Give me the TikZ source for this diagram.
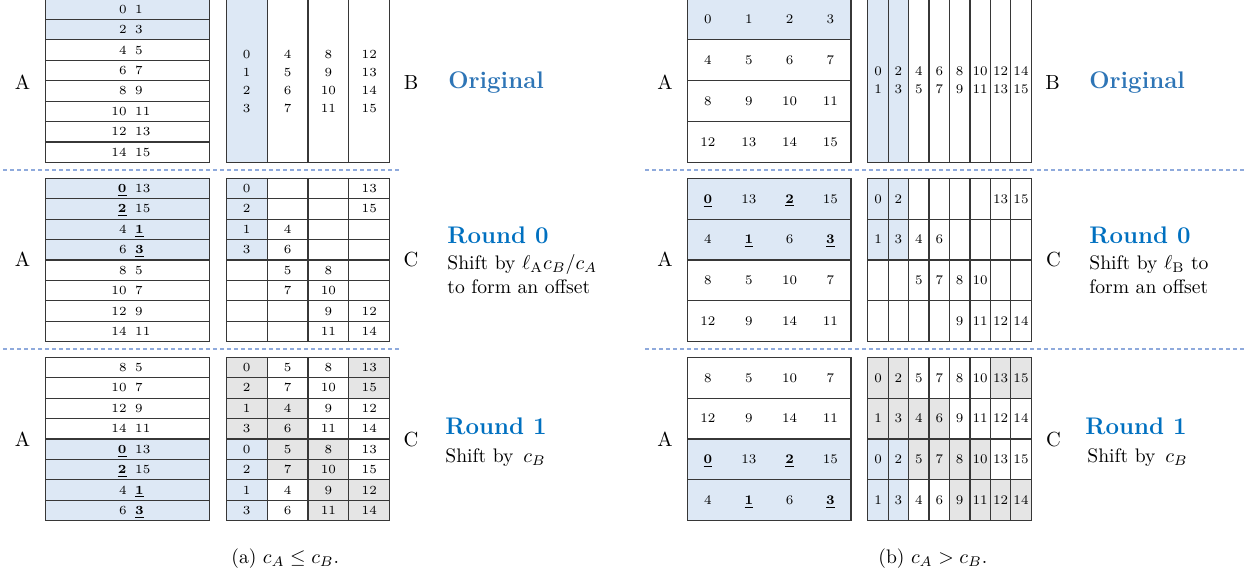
\documentclass[tikz,border=0pt]{standalone}
\definecolor{cellblue}{RGB}{221,232,245}
\definecolor{cellgray}{RGB}{229,229,229}
\definecolor{gridc}{RGB}{55,55,55}
\definecolor{dashc}{RGB}{143,170,220}
\definecolor{origblue}{RGB}{46,117,182}
\definecolor{roundblue}{RGB}{0,112,192}
\newcommand\bu[1]{\underline{\textbf{#1}}}
\begin{document}
\begin{tikzpicture}[x=0.5pt,y=-0.5pt,
  num/.style={inner sep=0pt, text height=4pt, text depth=0pt, font=\fontsize{6.2}{7}\selectfont, text=black},
  rnum/.style={num, text height=4.3pt, font=\fontsize{6.6}{7.5}\selectfont},
  lab/.style={anchor=base, inner sep=0pt, font=\fontsize{10.2}{12}\selectfont},
  side/.style={anchor=base west, inner sep=0pt, font=\fontsize{9.8}{11.5}\selectfont},
  title/.style={anchor=base west, inner sep=0pt, font=\fontsize{12}{14}\selectfont\bfseries},
  gridline/.style={draw=gridc, line width=0.6pt},
  dashline/.style={draw=dashc, line width=0.6pt, dash pattern=on 2pt off 1.5pt}]
\useasboundingbox (0,0) rectangle (1247,577);
\def\S{163.4}
\def\LAx{45.7}\def\LBx{226.3}\def\RAx{687.5}\def\RBx{867.8}
\def\Yo{-1}\def\Yi{178.3}\def\Yii{357.3}
% ---------------- fills ----------------
\fill[cellblue] (\LAx,\Yo) rectangle +(\S,{2*\S/8});
\fill[cellblue] (\LBx,\Yo) rectangle +({\S/4},\S);
\fill[cellblue] (\LAx,\Yi) rectangle +(\S,{4*\S/8});
\fill[cellblue] (\LBx,\Yi) rectangle +({\S/4},{4*\S/8});
\fill[cellblue] (\LAx,{\Yii+4*\S/8}) rectangle +(\S,{4*\S/8});
\fill[cellblue] (\LBx,{\Yii+4*\S/8}) rectangle +({\S/4},{4*\S/8});
\foreach \c/\r in {0/0,3/0,0/1,3/1,0/2,1/2,0/3,1/3,1/4,2/4,1/5,2/5,2/6,3/6,2/7,3/7}
  \fill[cellgray] ({\LBx+\c*\S/4},{\Yii+\r*\S/8}) rectangle +({\S/4},{\S/8});
\fill[cellblue] (\RAx,\Yo) rectangle +(\S,{\S/4});
\fill[cellblue] (\RBx,\Yo) rectangle +({2*\S/8},\S);
\fill[cellblue] (\RAx,\Yi) rectangle +(\S,{2*\S/4});
\fill[cellblue] (\RBx,\Yi) rectangle +({2*\S/8},{2*\S/4});
\fill[cellblue] (\RAx,{\Yii+2*\S/4}) rectangle +(\S,{2*\S/4});
\fill[cellblue] (\RBx,{\Yii+2*\S/4}) rectangle +({2*\S/8},{2*\S/4});
\foreach \c/\r in {0/0,1/0,6/0,7/0,0/1,1/1,2/1,3/1,2/2,3/2,4/2,5/2,4/3,5/3,6/3,7/3}
  \fill[cellgray] ({\RBx+\c*\S/8},{\Yii+\r*\S/4}) rectangle +({\S/8},{\S/4});
% ---------------- grids ----------------
\foreach \Y in {\Yo,\Yi,\Yii}{
  \draw[gridline] (\LAx,\Y) rectangle +(\S,\S);
  \foreach \r in {1,...,7} \draw[gridline] (\LAx,{\Y+\r*\S/8}) -- +(\S,0);
  \draw[gridline] (\LBx,\Y) rectangle +(\S,\S);
  \foreach \c in {1,2,3} \draw[gridline] ({\LBx+\c*\S/4},\Y) -- +(0,\S);
  \draw[gridline] (\RAx,\Y) rectangle +(\S,\S);
  \foreach \r in {1,2,3} \draw[gridline] (\RAx,{\Y+\r*\S/4}) -- +(\S,0);
  \draw[gridline] (\RBx,\Y) rectangle +(\S,\S);
  \foreach \c in {1,...,7} \draw[gridline] ({\RBx+\c*\S/8},\Y) -- +(0,\S);
}
\foreach \Y in {\Yi,\Yii}{
  \foreach \r in {1,...,7} \draw[gridline] (\LBx,{\Y+\r*\S/8}) -- +(\S,0);
  \foreach \r in {1,2,3} \draw[gridline] (\RBx,{\Y+\r*\S/4}) -- +(\S,0);
}
% ---------------- texts: left ----------------
\def\pairL{127.0}\def\pairR{134.8}
\foreach \a/\b [count=\i from 0] in {0/1,2/3,4/5,6/7,8/9,10/11,12/13,14/15}{
  \node[num,anchor=east] (lat\i a) at (\pairL,{\Yo+(\i+0.5)*\S/8}) {\a};
  \node[num,anchor=west] (lat\i b) at (\pairR,{\Yo+(\i+0.5)*\S/8}) {\b};
}
\foreach \a/\b [count=\i from 0] in {\bu{0}/13,\bu{2}/15,4/\bu{1},6/\bu{3},8/5,10/7,12/9,14/11}{
  \node[num,anchor=east] (lam\i a) at (\pairL,{\Yi+(\i+0.5)*\S/8}) {\a};
  \node[num,anchor=west] (lam\i b) at (\pairR,{\Yi+(\i+0.5)*\S/8}) {\b};
}
\foreach \a/\b [count=\i from 0] in {8/5,10/7,12/9,14/11,\bu{0}/13,\bu{2}/15,4/\bu{1},6/\bu{3}}{
  \node[num,anchor=east] (lab\i a) at (\pairL,{\Yii+(\i+0.5)*\S/8}) {\a};
  \node[num,anchor=west] (lab\i b) at (\pairR,{\Yii+(\i+0.5)*\S/8}) {\b};
}
\foreach \c in {0,1,2,3}
  \foreach \k in {0,1,2,3}{
    \pgfmathtruncatemacro\v{4*\c+\k}
    \node[num] (lb\c-\k) at ({\LBx+(\c+0.5)*\S/4},{54.1+\k*18.2}) {\v};
  }
\foreach \c/\r/\v in {0/0/0,3/0/13,0/1/2,3/1/15,0/2/1,1/2/4,0/3/3,1/3/6,1/4/5,2/4/8,1/5/7,2/5/10,2/6/9,3/6/12,2/7/11,3/7/14}
  \node[num] (lcm\c-\r) at ({\LBx+(\c+0.5)*\S/4},{\Yi+(\r+0.5)*\S/8}) {\v};
\foreach \r/\va/\vb/\vc/\vd in {0/0/5/8/13,1/2/7/10/15,2/1/4/9/12,3/3/6/11/14,4/0/5/8/13,5/2/7/10/15,6/1/4/9/12,7/3/6/11/14}{
  \node[num] (lcb0-\r) at ({\LBx+0.5*\S/4},{\Yii+(\r+0.5)*\S/8}) {\va};
  \node[num] (lcb1-\r) at ({\LBx+1.5*\S/4},{\Yii+(\r+0.5)*\S/8}) {\vb};
  \node[num] (lcb2-\r) at ({\LBx+2.5*\S/4},{\Yii+(\r+0.5)*\S/8}) {\vc};
  \node[num] (lcb3-\r) at ({\LBx+3.5*\S/4},{\Yii+(\r+0.5)*\S/8}) {\vd};
}
% ---------------- texts: right ----------------
\foreach \r/\va/\vb/\vc/\vd in {0/0/1/2/3,1/4/5/6/7,2/8/9/10/11,3/12/13/14/15}{
  \node[rnum] (rat0-\r) at ({\RAx+0.5*\S/4},{\Yo+(\r+0.5)*\S/4}) {\va};
  \node[rnum] (rat1-\r) at ({\RAx+1.5*\S/4},{\Yo+(\r+0.5)*\S/4}) {\vb};
  \node[rnum] (rat2-\r) at ({\RAx+2.5*\S/4},{\Yo+(\r+0.5)*\S/4}) {\vc};
  \node[rnum] (rat3-\r) at ({\RAx+3.5*\S/4},{\Yo+(\r+0.5)*\S/4}) {\vd};
}
\foreach \r/\va/\vb/\vc/\vd in {0/\bu{0}/13/\bu{2}/15,1/4/\bu{1}/6/\bu{3},2/8/5/10/7,3/12/9/14/11}{
  \node[rnum] (ram0-\r) at ({\RAx+0.5*\S/4},{\Yi+(\r+0.5)*\S/4}) {\va};
  \node[rnum] (ram1-\r) at ({\RAx+1.5*\S/4},{\Yi+(\r+0.5)*\S/4}) {\vb};
  \node[rnum] (ram2-\r) at ({\RAx+2.5*\S/4},{\Yi+(\r+0.5)*\S/4}) {\vc};
  \node[rnum] (ram3-\r) at ({\RAx+3.5*\S/4},{\Yi+(\r+0.5)*\S/4}) {\vd};
}
\foreach \r/\va/\vb/\vc/\vd in {0/8/5/10/7,1/12/9/14/11,2/\bu{0}/13/\bu{2}/15,3/4/\bu{1}/6/\bu{3}}{
  \node[rnum] (rab0-\r) at ({\RAx+0.5*\S/4},{\Yii+(\r+0.5)*\S/4}) {\va};
  \node[rnum] (rab1-\r) at ({\RAx+1.5*\S/4},{\Yii+(\r+0.5)*\S/4}) {\vb};
  \node[rnum] (rab2-\r) at ({\RAx+2.5*\S/4},{\Yii+(\r+0.5)*\S/4}) {\vc};
  \node[rnum] (rab3-\r) at ({\RAx+3.5*\S/4},{\Yii+(\r+0.5)*\S/4}) {\vd};
}
\foreach \c in {0,...,7}{
  \pgfmathtruncatemacro\va{2*\c}
  \pgfmathtruncatemacro\vb{2*\c+1}
  \node[rnum] (rb\c-0) at ({\RBx+(\c+0.5)*\S/8},71) {\va};
  \node[rnum] (rb\c-1) at ({\RBx+(\c+0.5)*\S/8},89) {\vb};
}
\foreach \c/\r/\v in {0/0/0,1/0/2,6/0/13,7/0/15,0/1/1,1/1/3,2/1/4,3/1/6,2/2/5,3/2/7,4/2/8,5/2/10,4/3/9,5/3/11,6/3/12,7/3/14}
  \node[rnum] (rcm\c-\r) at ({\RBx+(\c+0.5)*\S/8},{\Yi+(\r+0.5)*\S/4}) {\v};
\foreach \r in {0,1,2,3}{
  \pgfmathtruncatemacro\odd{mod(\r,2)}
  \ifnum\odd=0
    \foreach \v [count=\c from 0] in {0,2,5,7,8,10,13,15}
      \node[rnum] (rcb\c-\r) at ({\RBx+(\c+0.5)*\S/8},{\Yii+(\r+0.5)*\S/4}) {\v};
  \else
    \foreach \v [count=\c from 0] in {1,3,4,6,9,11,12,14}
      \node[rnum] (rcb\c-\r) at ({\RBx+(\c+0.5)*\S/8},{\Yii+(\r+0.5)*\S/4}) {\v};
  \fi
}
% ---------------- labels ----------------
\node[lab] (LA0) at (22.5,89.3) {A};
\node[lab] (LB0) at (411,89.3) {B};
\node[lab] (LA1) at (22.5,267) {A};
\node[lab] (LC1) at (411,267) {C};
\node[lab] (LA2) at (22.5,446.7) {A};
\node[lab] (LC2) at (411,446.7) {C};
\node[lab] (RA0) at (665,89.3) {A};
\node[lab] (RB0) at (1052.5,89.3) {B};
\node[lab] (RA1) at (665,267) {A};
\node[lab] (RC1) at (1053.5,267) {C};
\node[lab] (RA2) at (665,446.7) {A};
\node[lab] (RC2) at (1053.5,446.7) {C};
% titles
\node[title,text=origblue] (LT0) at (448,89) {Original};
\node[title,text=roundblue] (LT1) at (447,243) {Round 0};
\node[side] (LS1a) at (447,270) {Shift by $\ell_{\mathrm{A}}c_B/c_A$};
\node[side] (LS1b) at (447,293) {to form an offset};
\node[title,text=roundblue] (LT2) at (445,434) {Round 1};
\node[side] (LS2) at (445,462) {Shift by \,$c_B$};
\node[title,text=origblue] (RT0) at (1089,89) {Original};
\node[title,text=roundblue] (RT1) at (1089,243) {Round 0};
\node[side] (RS1a) at (1089,270) {Shift by $\ell_{\mathrm{B}}$ to};
\node[side] (RS1b) at (1089,293) {form an offset};
\node[title,text=roundblue] (RT2) at (1085,434) {Round 1};
\node[side] (RS2) at (1087,462) {Shift by \,$c_B$};
% captions
\node[side] (capA) at (231,563) {(a) $c_A \le c_B$.};
\node[side] (capB) at (878,563) {(b) $c_A > c_B$.};
% dashed separators
\coordinate (dl1a) at (3,170); \coordinate (dl1b) at (400,170);
\coordinate (dl2a) at (3,349); \coordinate (dl2b) at (400,349);
\coordinate (dr1a) at (645,170); \coordinate (dr1b) at (1245,170);
\coordinate (dr2a) at (645,349); \coordinate (dr2b) at (1245,349);
\draw[dashline] (dl1a) -- (dl1b);
\draw[dashline] (dl2a) -- (dl2b);
\draw[dashline] (dr1a) -- (dr1b);
\draw[dashline] (dr2a) -- (dr2b);
\end{tikzpicture}
\end{document}
